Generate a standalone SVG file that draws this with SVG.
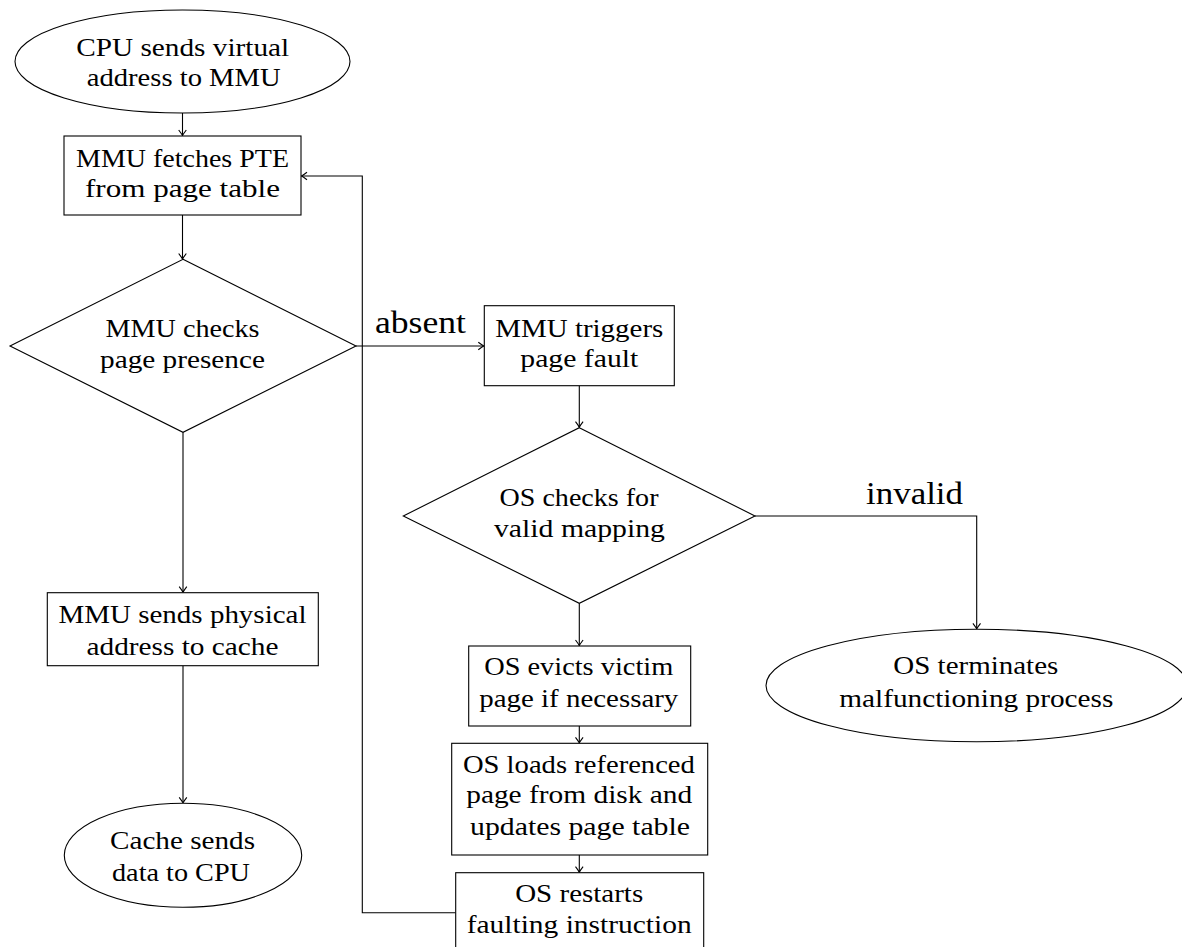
<svg xmlns="http://www.w3.org/2000/svg" width="1182" height="947" viewBox="0 0 1182 947">
<style>
.shape{fill:#fff;stroke:#000;stroke-width:1.1}
.edge{fill:none;stroke:#000;stroke-width:1.1}
text{font-family:"Liberation Serif","Times New Roman",serif;font-size:25.5px;fill:#000;text-anchor:middle}
text.lbl{font-size:32px}
</style>
<defs>
<marker id="arr" viewBox="-7 -5 8 10" refX="0" refY="0" markerWidth="8" markerHeight="10" markerUnits="userSpaceOnUse" orient="auto">
<path d="M-5.5,-3.8 Q-1.5,-0.8 0,0 Q-1.5,0.8 -5.5,3.8" fill="none" stroke="#000" stroke-width="1.1"/>
</marker>
</defs>
<rect width="1182" height="947" fill="#fff"/>
<g id="connectors">
<path class="edge" d="M182.5,113 V135.5" marker-end="url(#arr)"/>
<path class="edge" d="M182.5,215 V259" marker-end="url(#arr)"/>
<path class="edge" d="M183,432.3 V592.2" marker-end="url(#arr)"/>
<path class="edge" d="M183,665.7 V802.8" marker-end="url(#arr)"/>
<path class="edge" d="M356,346 H483.8" marker-end="url(#arr)"/>
<text class="lbl" x="420.5" y="333.3" textLength="91" lengthAdjust="spacingAndGlyphs">absent</text>
<path class="edge" d="M579.3,385.7 V427.2" marker-end="url(#arr)"/>
<path class="edge" d="M755,516 H976.7 V628.8" marker-end="url(#arr)"/>
<text class="lbl" x="914.5" y="504.3" textLength="97" lengthAdjust="spacingAndGlyphs">invalid</text>
<path class="edge" d="M579.3,603.3 V645.5" marker-end="url(#arr)"/>
<path class="edge" d="M579.3,726 V742.8" marker-end="url(#arr)"/>
<path class="edge" d="M579.3,855 V872.2" marker-end="url(#arr)"/>
<path class="edge" d="M455.7,912.7 H362.3 V176 H301.5" marker-end="url(#arr)"/>
</g>
<g id="start">
<ellipse class="shape" cx="182.5" cy="61.5" rx="167.5" ry="51.5"/>
<text x="182.7" y="56" textLength="213" lengthAdjust="spacingAndGlyphs">CPU sends virtual</text>
<text x="183.7" y="86" textLength="194" lengthAdjust="spacingAndGlyphs">address to MMU</text>
</g>
<g id="fetch">
<rect class="shape" x="64" y="136" width="237" height="79"/>
<text x="182.5" y="167" textLength="213" lengthAdjust="spacingAndGlyphs">MMU fetches PTE</text>
<text x="182.5" y="197" textLength="195" lengthAdjust="spacingAndGlyphs">from page table</text>
</g>
<g id="presence">
<polygon class="shape" points="183,259.3 356,346 183,432.3 10,346"/>
<text x="182.5" y="336.7" textLength="154" lengthAdjust="spacingAndGlyphs">MMU checks</text>
<text x="182.5" y="368.3" textLength="165" lengthAdjust="spacingAndGlyphs">page presence</text>
</g>
<g id="physical">
<rect class="shape" x="47.3" y="592.7" width="271" height="73"/>
<text x="182.5" y="623.3" textLength="248" lengthAdjust="spacingAndGlyphs">MMU sends physical</text>
<text x="182.5" y="655" textLength="192" lengthAdjust="spacingAndGlyphs">address to cache</text>
</g>
<g id="cache">
<ellipse class="shape" cx="183" cy="855.3" rx="118.7" ry="52"/>
<text x="182.5" y="849.3" textLength="145" lengthAdjust="spacingAndGlyphs">Cache sends</text>
<text x="181" y="880.7" textLength="138" lengthAdjust="spacingAndGlyphs">data to CPU</text>
</g>
<g id="fault">
<rect class="shape" x="484.3" y="305.7" width="190" height="80"/>
<text x="579.3" y="336.7" textLength="168" lengthAdjust="spacingAndGlyphs">MMU triggers</text>
<text x="579.3" y="366.7" textLength="118" lengthAdjust="spacingAndGlyphs">page fault</text>
</g>
<g id="valid">
<polygon class="shape" points="579.3,427.7 755,516 579.3,603.3 403.3,516"/>
<text x="579" y="506" textLength="159" lengthAdjust="spacingAndGlyphs">OS checks for</text>
<text x="579.5" y="536.7" textLength="171" lengthAdjust="spacingAndGlyphs">valid mapping</text>
</g>
<g id="evict">
<rect class="shape" x="468.7" y="646" width="222" height="80"/>
<text x="578.7" y="675" textLength="189" lengthAdjust="spacingAndGlyphs">OS evicts victim</text>
<text x="578.8" y="706.7" textLength="199" lengthAdjust="spacingAndGlyphs">page if necessary</text>
</g>
<g id="load">
<rect class="shape" x="451.7" y="743.3" width="256" height="111.7"/>
<text x="578.9" y="773.3" textLength="232" lengthAdjust="spacingAndGlyphs">OS loads referenced</text>
<text x="579.2" y="803.3" textLength="226" lengthAdjust="spacingAndGlyphs">page from disk and</text>
<text x="580" y="835" textLength="220" lengthAdjust="spacingAndGlyphs">updates page table</text>
</g>
<g id="restart">
<rect class="shape" x="455.7" y="872.7" width="248" height="90"/>
<text x="579.2" y="901.7" textLength="128" lengthAdjust="spacingAndGlyphs">OS restarts</text>
<text x="579.2" y="933.3" textLength="225" lengthAdjust="spacingAndGlyphs">faulting instruction</text>
</g>
<g id="terminate">
<ellipse class="shape" cx="976.7" cy="685.5" rx="210.7" ry="56.3"/>
<text x="975.8" y="674" textLength="165" lengthAdjust="spacingAndGlyphs">OS terminates</text>
<text x="976.3" y="707.3" textLength="274" lengthAdjust="spacingAndGlyphs">malfunctioning process</text>
</g>
</svg>
